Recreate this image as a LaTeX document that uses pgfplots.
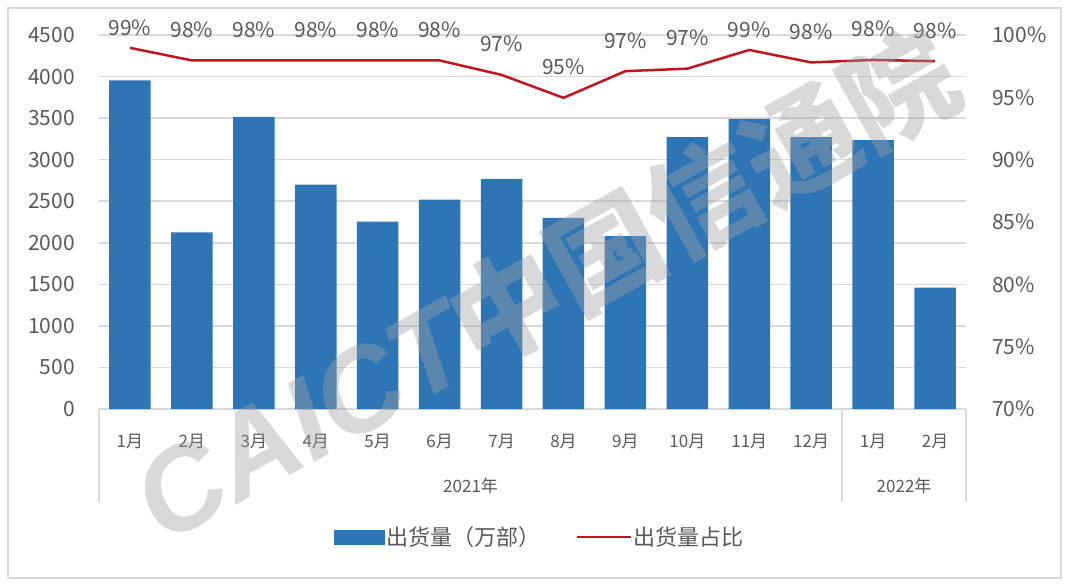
\documentclass[border=0pt]{standalone}
\usepackage{fontspec}
\setmainfont{Noto Sans CJK SC}
\newfontfamily\wmfont{Noto Sans CJK SC}
\newfontfamily\wmlat{Liberation Sans}
\usepackage{pgfplots}
\pgfplotsset{compat=1.18}
\definecolor{barblue}{HTML}{2E75B6}
\definecolor{linered}{HTML}{C0141E}
\definecolor{txtgray}{HTML}{595959}
\definecolor{gridgray}{HTML}{D9D9D9}
\definecolor{wmgray}{HTML}{A0A0A0}
\newcommand{\lo}[1]{\raisebox{-11pt}{#1}}
\begin{document}
\begin{tikzpicture}[x=1pt,y=1pt]
\path[use as bounding box] (0,0) rectangle (1069,587);
\fill[white] (0,0) rectangle (1069,587);
\draw[gridgray, line width=1.5pt] (8,9) rectangle (1061,579);

\begin{axis}[
  at={(99pt,178pt)}, anchor=south west,
  width=867pt, height=374pt, scale only axis,
  xmin=-0.5, xmax=13.5, ymin=0, ymax=4500,
  ytick={0,500,...,4500},
  xtick={0,...,13},
  xticklabels={1月,2月,3月,4月,5月,6月,7月,8月,9月,10月,11月,12月,1月,2月},
  axis line style={draw=none},
  major tick length=0pt,
  ymajorgrids, grid style={gridgray, line width=1.5pt},
  /pgf/number format/assume math mode=true,
  /pgf/number format/set thousands separator={},
  yticklabel style={inner sep=0pt, anchor=east, xshift=-24pt, text=txtgray, font=\fontsize{21}{21}\selectfont},
  xticklabel style={inner sep=0pt, anchor=center, yshift=-32pt, text=txtgray, font=\fontsize{17}{17}\selectfont},
  clip=false,
]
\addplot[ybar, bar width=41.5pt, fill=barblue, draw=none] coordinates {
(0,3955) (1,2125) (2,3515) (3,2700) (4,2255) (5,2520) (6,2770)
(7,2300) (8,2080) (9,3270) (10,3490) (11,3270) (12,3235) (13,1460)};
\draw[gridgray, line width=1.5pt] (axis cs:-0.5,0) -- ++(0pt,-93pt);
\draw[gridgray, line width=1.5pt] (axis cs:11.5,0) -- ++(0pt,-93pt);
\draw[gridgray, line width=1.5pt] (axis cs:13.5,0) -- ++(0pt,-93pt);
\node[text=txtgray, font=\fontsize{17}{17}\selectfont, yshift=-77pt] at (axis cs:5.5,0) {2021年};
\node[text=txtgray, font=\fontsize{17}{17}\selectfont, yshift=-77pt] at (axis cs:12.5,0) {2022年};
\end{axis}

\begin{axis}[
  at={(99pt,178pt)}, anchor=south west,
  width=867pt, height=374pt, scale only axis,
  xmin=-0.5, xmax=13.5, ymin=70, ymax=100,
  ytick={70,75,...,100},
  axis x line=none,
  axis y line*=right,
  axis line style={draw=none},
  major tick length=0pt,
  /pgf/number format/assume math mode=true,
  yticklabel={\pgfmathprintnumber{\tick}\%},
  yticklabel style={inner sep=0pt, anchor=west, xshift=26pt, text=txtgray, font=\fontsize{21}{21}\selectfont},
  clip=false,
  legend style={at={(0.5087,-0.342)}, anchor=center, draw=none, fill=none,
    legend columns=2, font=\fontsize{22}{22}\selectfont, text=txtgray,
    /tikz/every even column/.append style={column sep=33pt},
    legend cell align=left},
]
\addlegendimage{legend image code/.code={\fill[barblue] (0pt,-7pt) rectangle (50pt,7pt);}}
\addlegendentry{出货量（万部）}
\addplot[linered, line width=2.5pt, mark=none,
  nodes near coords, point meta=explicit symbolic,
  nodes near coords style={anchor=base, yshift=23pt, text=txtgray, font=\fontsize{21}{21}\selectfont},
  legend image code/.code={\draw[linered, line width=2.5pt] (0pt,0pt) -- (54pt,0pt);}]
coordinates {
(0,98.97) [\lo{99\%}]
(1,97.96) [98\%]
(2,97.96) [98\%]
(3,97.96) [98\%]
(4,97.96) [98\%]
(5,97.96) [98\%]
(6,96.8) [97\%]
(7,94.96) [95\%]
(8,97.1) [97\%]
(9,97.3) [97\%]
(10,98.8) [\lo{99\%}]
(11,97.8) [98\%]
(12,98.0) [98\%]
(13,97.9) [98\%]
};
\addlegendentry{出货量占比}
\end{axis}

\begin{scope}[transparency group, opacity=0.4]
\node[rotate=29, text=wmgray, inner sep=0pt] at (545,302)
  {{\wmlat\bfseries\itshape\fontsize{118}{118}\selectfont CAICT}{\wmfont\bfseries\fontsize{112}{112}\selectfont 中国信通院}};
\end{scope}
\end{tikzpicture}
\end{document}
